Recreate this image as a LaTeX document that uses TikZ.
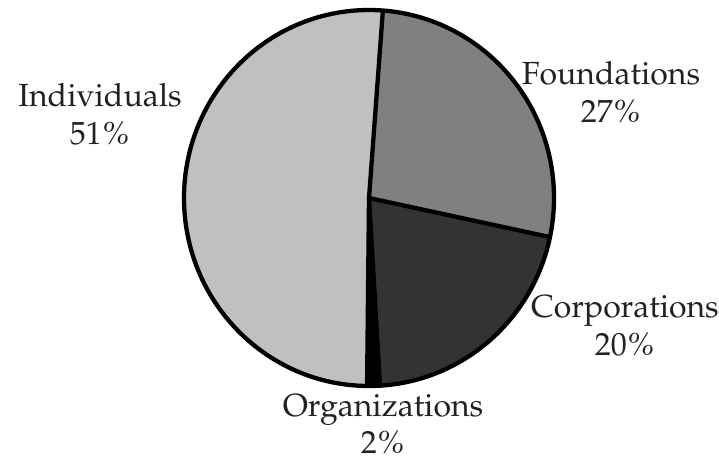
\documentclass[tikz,border=0pt]{standalone}
\usepackage[T1]{fontenc}
\usepackage{mathpazo}
\definecolor{indc}{HTML}{C0C0C0}
\definecolor{fouc}{HTML}{808080}
\definecolor{corc}{HTML}{333333}
\definecolor{orgc}{HTML}{000000}
\definecolor{txtc}{HTML}{222222}
\newcommand{\pct}{\textit{\%}}
\tikzset{
  wedge/.style={draw=black, line width=4.3pt, line join=round},
  lbl/.style={anchor=base, inner sep=0pt, text=txtc, font=\fontsize{32}{38}\selectfont}
}
\begin{document}
\begin{tikzpicture}[x=1pt,y=1pt]
\useasboundingbox (0,0) rectangle (719,458);
\coordinate (c) at (369,260);
% Individuals
\fill[indc] (c) -- ++(85.7:185 and 188) arc[start angle=85.7, end angle=269.4, x radius=185, y radius=188] -- cycle;
% Foundations
\fill[fouc] (c) -- ++(-12:185 and 188) arc[start angle=-12, end angle=85.7, x radius=185, y radius=188] -- cycle;
% Corporations
\fill[corc] (c) -- ++(-86.6:185 and 188) arc[start angle=-86.6, end angle=-12, x radius=185, y radius=188] -- cycle;
% Organizations
\fill[orgc] (c) -- ++(-90.6:185 and 188) arc[start angle=-90.6, end angle=-86.6, x radius=185, y radius=188] -- cycle;
% borders
\draw[wedge] (c) -- ++(85.7:185 and 188);
\draw[wedge] (c) -- ++(-12:185 and 188);
\draw[wedge] (c) -- ++(-86.6:185 and 188);
\draw[wedge] (c) -- ++(-90.6:185 and 188);
\draw[wedge] (c) ellipse[x radius=185, y radius=188];
% labels
\node[lbl] (indname) at (100,351) {Individuals};
\node[lbl] (indpct) at (100,313) {51\pct};
\node[lbl] (founame) at (611,373) {Foundations};
\node[lbl] (foupct) at (611,335) {27\pct};
\node[lbl] (corname) at (625,141) {Corporations};
\node[lbl] (corpct) at (625,103) {20\pct};
\node[lbl] (orgname) at (383,42) {Organizations};
\node[lbl] (orgpct) at (383,5) {2\pct};
\end{tikzpicture}
\end{document}
